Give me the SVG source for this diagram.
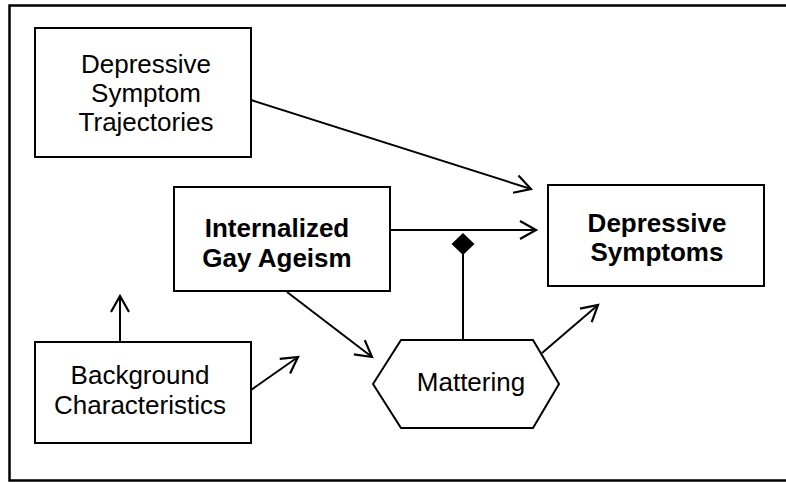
<svg xmlns="http://www.w3.org/2000/svg" width="786" height="482" viewBox="0 0 786 482">
<style>
.box{fill:#fff;stroke:#000;stroke-width:2}
.t{font-family:"Liberation Sans",Arial,sans-serif;font-size:26px;text-anchor:middle;fill:#000}
.b{font-weight:bold}
.c{fill:none;stroke:#000;stroke-width:2}
</style>
<defs>
<marker id="ah" markerUnits="userSpaceOnUse" viewBox="-20 -12 24 24" refX="0" refY="0" markerWidth="24" markerHeight="24" orient="auto">
<path d="M-16,-9 L0,0 L-16,9" fill="none" stroke="#000" stroke-width="2.2" stroke-linejoin="miter"/>
</marker>
</defs>
<rect x="9.5" y="5.5" width="800" height="475" fill="#fff" stroke="#000" stroke-width="2.5"/>
<g id="connectors">
<line class="c" x1="251" y1="100" x2="531" y2="189" marker-end="url(#ah)"/>
<line class="c" x1="390" y1="230" x2="536" y2="230" marker-end="url(#ah)"/>
<line class="c" x1="463" y1="250" x2="463" y2="340"/>
<path d="M463,233 L474.5,244 L463,255 L451.5,244 Z" fill="#000"/>
<line class="c" x1="287" y1="292" x2="372" y2="357" marker-end="url(#ah)"/>
<line class="c" x1="542" y1="353" x2="598" y2="305" marker-end="url(#ah)"/>
<line class="c" x1="120" y1="342" x2="120" y2="296" marker-end="url(#ah)"/>
<line class="c" x1="251" y1="390" x2="298" y2="357" marker-end="url(#ah)"/>
</g>
<g id="dst">
<rect class="box" x="35" y="28" width="216" height="129"/>
<text class="t" x="146" y="72.5">Depressive</text>
<text class="t" x="146" y="101.5">Symptom</text>
<text class="t" x="146" y="130.5">Trajectories</text>
</g>
<g id="iga">
<rect class="box" x="174" y="187" width="216" height="104"/>
<text class="t b" x="277" y="237">Internalized</text>
<text class="t b" x="277" y="267">Gay Ageism</text>
</g>
<g id="ds">
<rect class="box" x="548" y="185" width="216" height="101"/>
<text class="t b" x="657" y="231.5">Depressive</text>
<text class="t b" x="657" y="261">Symptoms</text>
</g>
<g id="bg">
<rect class="box" x="35" y="342" width="216" height="101"/>
<text class="t" x="140" y="384">Background</text>
<text class="t" x="140" y="414">Characteristics</text>
</g>
<g id="mattering">
<polygon class="box" points="373,384 401,340 533,340 559,384 533,428 401,428"/>
<text class="t" x="471" y="391">Mattering</text>
</g>
</svg>
